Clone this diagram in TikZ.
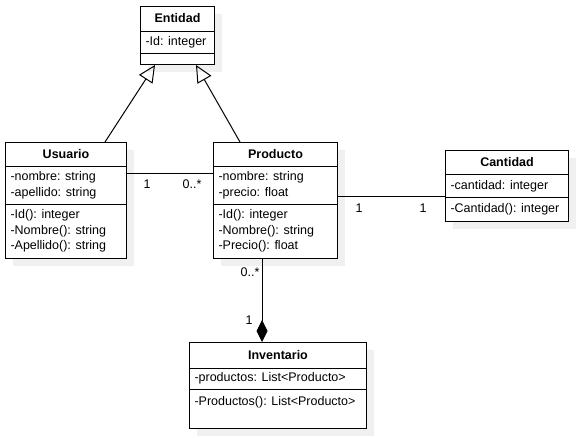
\documentclass[tikz,border=0pt]{standalone}
\usepackage{fontspec}
\setmainfont{Liberation Sans}
\usetikzlibrary{calc,positioning,arrows.meta,shadows}

\begin{document}
\begin{tikzpicture}[
  x=1pt,y=-1pt,
  line width=1pt,
  classbox/.style={draw,fill=white,anchor=north west,inner sep=0pt,
    drop shadow={shadow xshift=7pt,shadow yshift=-7pt,fill=black!6,opacity=1}},
  classname/.style={font=\fontsize{12.5}{15}\selectfont\bfseries,inner sep=0pt},
  members/.style={font=\fontsize{12.5}{15.5}\selectfont,align=left,anchor=west,inner sep=0pt},
  mult/.style={font=\fontsize{12.5}{15}\selectfont,inner sep=0pt},
  ]
  \useasboundingbox (0,0) rectangle (580,437);

  % classes
  \node[classbox,minimum width=74pt,minimum height=58pt] (entidad) at (140,6) {};
  \node[classbox,minimum width=121pt,minimum height=116pt] (usuario) at (5,142) {};
  \node[classbox,minimum width=124pt,minimum height=116pt] (producto) at (213,142) {};
  \node[classbox,minimum width=123pt,minimum height=71pt] (cantidad) at (445,150) {};
  \node[classbox,minimum width=177pt,minimum height=86pt] (inventario) at (189,342) {};

  % compartments
  \draw (entidad.west |- 0,31) -- (entidad.east |- 0,31);
  \draw (entidad.west |- 0,53) -- (entidad.east |- 0,53);
  \draw (usuario.west |- 0,166) -- (usuario.east |- 0,166);
  \draw (usuario.west |- 0,204) -- (usuario.east |- 0,204);
  \draw (producto.west |- 0,166) -- (producto.east |- 0,166);
  \draw (producto.west |- 0,204) -- (producto.east |- 0,204);
  \draw (cantidad.west |- 0,174) -- (cantidad.east |- 0,174);
  \draw (cantidad.west |- 0,197) -- (cantidad.east |- 0,197);
  \draw (inventario.west |- 0,368) -- (inventario.east |- 0,368);
  \draw (inventario.west |- 0,389) -- (inventario.east |- 0,389);

  % texts
  \node[classname] (entidadname) at (entidad.north |- 0,18.5) {Entidad};
  \node[members] (entidadattr) at (145,42) {-Id: integer};

  \node[classname] (usuarioname) at (usuario.north |- 0,154) {Usuario};
  \node[members] (usuarioattr) at (10,185.5) {-nombre: string\\-apellido: string};
  \node[members] (usuarioops) at (10,231) {-Id(): integer\\-Nombre(): string\\-Apellido(): string};

  \node[classname] (productoname) at (producto.north |- 0,154) {Producto};
  \node[members] (productoattr) at (218,185.5) {-nombre: string\\-precio: float};
  \node[members] (productoops) at (218,231) {-Id(): integer\\-Nombre(): string\\-Precio(): float};

  \node[classname] (cantidadname) at (cantidad.north |- 0,162.5) {Cantidad};
  \node[members] (cantidadattr) at (450,186) {-cantidad: integer};
  \node[members] (cantidadops) at (450,209) {-Cantidad(): integer};

  \node[classname] (inventarioname) at (inventario.north |- 0,355) {Inventario};
  \node[members] (inventarioattr) at (194,378.5) {-productos: List<Producto>};
  \node[members] (inventarioops) at (194,402) {-Productos(): List<Producto>};

  % relations
  \draw[-{Triangle[open,length=17pt,width=16pt]}]
    (usuario.north -| 105,0) -- (entidad.south -| 155,0);
  \draw[-{Triangle[open,length=17pt,width=16pt]}]
    (producto.north -| 240,0) -- (entidad.south -| 196,0);

  \draw (usuario.east |- 0,173) -- (producto.west |- 0,173);
  \node[mult] (m1) at (147,184) {1};
  \node[mult] (m2) at (192,184) {0..*};

  \draw (producto.east |- 0,196) -- (cantidad.west |- 0,196);
  \node[mult] (m3) at (359,208) {1};
  \node[mult] (m4) at (423,208) {1};

  \draw[-{Diamond[length=22pt,width=11pt]}]
    (producto.south -| 262,0) -- (inventario.north -| 262,0);
  \node[mult] (m5) at (250,272) {0..*};
  \node[mult] (m6) at (249,320) {1};

\end{tikzpicture}
\end{document}
